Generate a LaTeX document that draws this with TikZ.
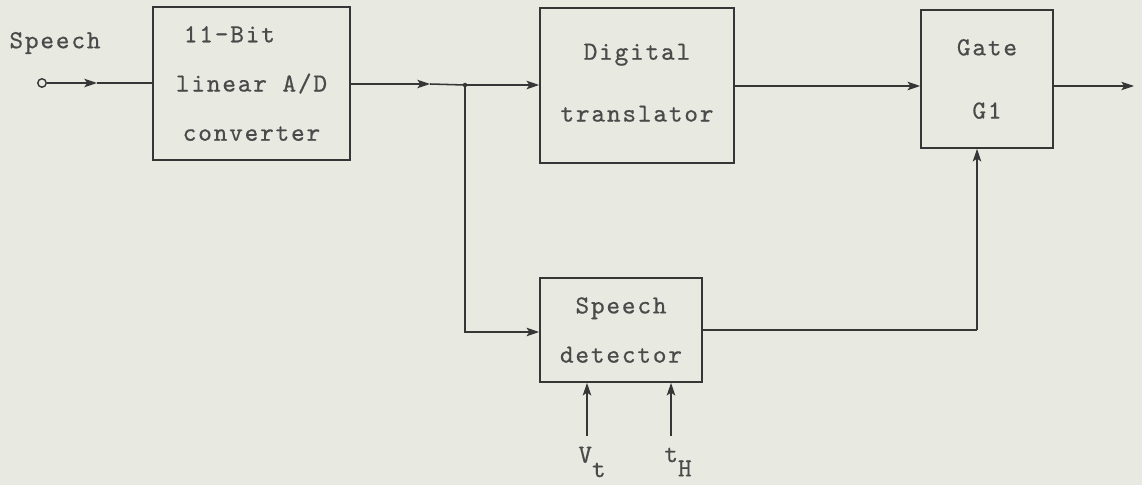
\documentclass[tikz,border=0pt]{standalone}
\usepackage{fontspec}
\setmonofont[LetterSpace=7,FakeBold=0.6]{lmmono10-regular.otf}
\usetikzlibrary{arrows.meta,positioning}
\definecolor{paper}{HTML}{E8E9E1}
\definecolor{ink}{HTML}{363636}
\definecolor{type}{HTML}{4A4A4A}
\tikzset{
  block/.style={draw=ink, line width=1.1pt, align=center, inner sep=0pt,
    text=type, font=\ttfamily\fontsize{18.5pt}{35pt}\selectfont},
  wire/.style={draw=ink, line width=1.1pt},
  flow/.style={wire, -{Stealth[length=9pt,width=6pt,inset=2pt]}},
  lbl/.style={text=type, font=\ttfamily\fontsize{18.5pt}{19pt}\selectfont}
}
\begin{document}
\begin{tikzpicture}[x=0.025cm, y=-0.025cm]
    % Hintergrund
    \fill[paper] (0,0) rectangle (1142,485);
    \useasboundingbox (0,0) rectangle (1142,485);

    % Bloecke
    \node[block, minimum width=4.925cm, minimum height=3.825cm] (adc) at (251.5,83.5)
        {11-Bit\hspace*{1.7em}\\linear A/D\\converter};
    \node[block, minimum width=4.85cm, minimum height=3.875cm] (trans) at (637,85.5)
        {\raisebox{4pt}{Digital}\\[9pt]\raisebox{4pt}{translator}};
    \node[block, minimum width=3.3cm, minimum height=3.45cm] (gate) at (987,79)
        {Gate\\[10pt]G1};
    \node[block, minimum width=4.05cm, minimum height=2.6cm] (det) at (621,330)
        {\raisebox{-2pt}{Speech}\\\raisebox{-2pt}{detector}};

    % Eingang
    \node[lbl] (speech) at (55,43) {Speech};
    \node[circle, draw=ink, line width=1pt, inner sep=0pt, minimum size=6pt] (in) at (42,83) {};
    \coordinate (inarr) at (97,83);
    \draw[flow] (in) -- (inarr);
    \draw[wire] (inarr) -- (adc.west |- inarr);

    % Verzweigung
    \coordinate (midarr) at (430,84);
    \coordinate (split) at (465,85);
    \draw[flow] (adc.east |- midarr) -- (midarr);
    \draw[wire] (midarr) -- (split);
    \fill[ink] (split) circle (1.6pt);
    \draw[flow] (split) -- (trans.west |- split);
    \draw[flow] (split) |- (det.west |- 0,332);

    % Gatter
    \draw[flow] (trans.east |- 0,86) -- (gate.west |- 0,86);
    \coordinate (out) at (1134,86);
    \draw[flow] (gate.east |- out) -- (out);
    \coordinate (gfeed) at (977,330);
    \draw[wire] (det.east |- gfeed) -- (gfeed);
    \draw[flow] (gfeed) -- (gfeed |- gate.south);

    % Schwellwerte
    \node[lbl] (vt) at (592,462) {V\raisebox{-0.55em}{t}};
    \node[lbl] (th) at (678,462) {t\raisebox{-0.55em}{H}};
    \draw[flow] (587,436) -- (587,0 |- det.south);
    \draw[flow] (671,436) -- (671,0 |- det.south);
\end{tikzpicture}
\end{document}
